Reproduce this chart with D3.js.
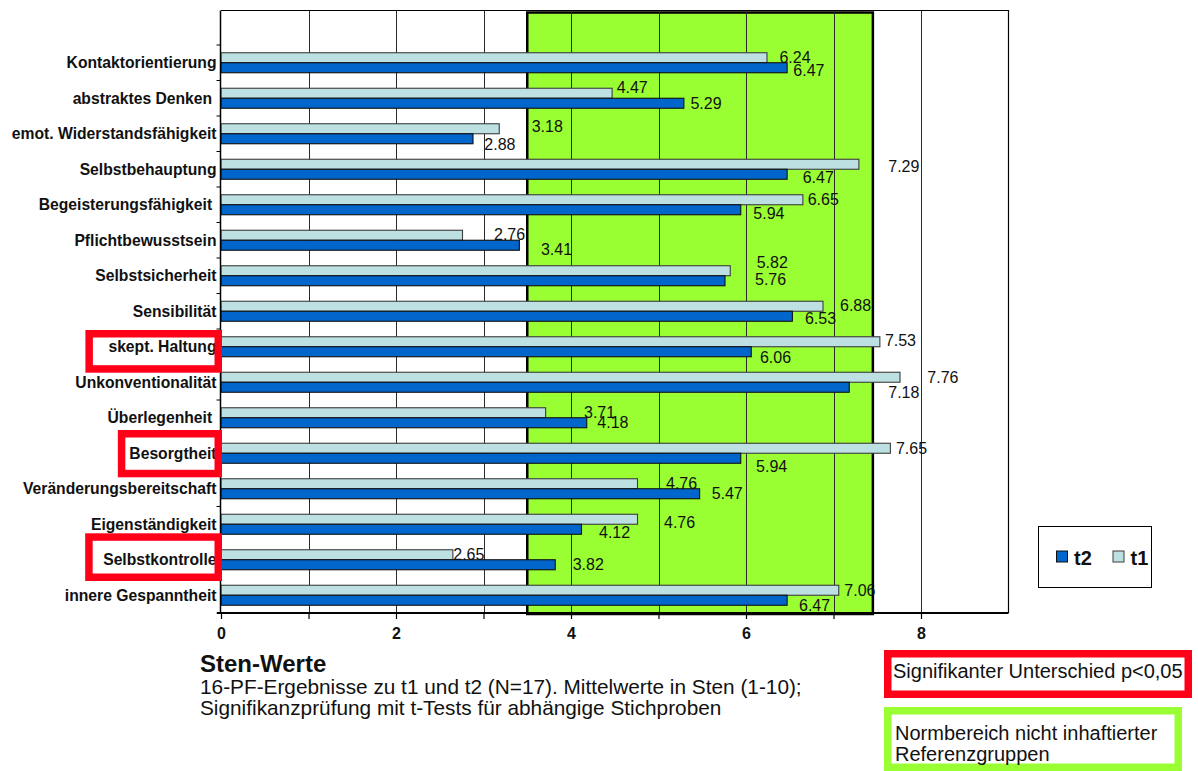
<!DOCTYPE html>
<html>
<head>
<meta charset="utf-8">
<script src="https://cdn.jsdelivr.net/npm/d3@7/dist/d3.min.js"></script>
<style>
  html, body { margin: 0; padding: 0; background: #fff; }
  svg { display: block; font-family: "Liberation Sans", Arial, Helvetica, sans-serif; }
</style>
</head>
<body>
<svg id="chart" width="1198" height="771"></svg>
<script>
// 16PF scales, mean Sten values at t1 and t2
const categories = [
  "Kontaktorientierung", "abstraktes Denken ", "emot. Widerstandsfähigkeit",
  "Selbstbehauptung", "Begeisterungsfähigkeit ", "Pflichtbewusstsein",
  "Selbstsicherheit", "Sensibilität", "skept. Haltung", "Unkonventionalität",
  "Überlegenheit ", "Besorgtheit", "Veränderungsbereitschaft", "Eigenständigkeit",
  "Selbstkontrolle", "innere Gespanntheit"
];
const t1Values = [6.24, 4.47, 3.18, 7.29, 6.65, 2.76, 5.82, 6.88, 7.53, 7.76, 3.71, 7.65, 4.76, 4.76, 2.65, 7.06];
const t2Values = [6.47, 5.29, 2.88, 6.47, 5.94, 3.41, 5.76, 6.53, 6.06, 7.18, 4.18, 5.94, 5.47, 4.12, 3.82, 6.47];
const seriesNames = ["t1", "t2"];
const legendOrder = ["t2", "t1"];
const xTickLabels = [0, 2, 4, 6, 8];
const normRange = [3.5, 7.45];   // Normbereich (Sten)
const significant = ["skept. Haltung", "Besorgtheit", "Selbstkontrolle"];

// value label nudges [dx from bar end, dy from bar centre], px
const t1LabelShift = [[12.4,5],[4.5,-0.4],[32.4,3.3],[29.4,7.7],[4.8,5.5],[31.5,4.3],[26.4,-3.2],[17,4.7],
                      [5,4],[27.3,5.7],[38.4,5.7],[5.6,6],[28.5,5],[26.5,8.4],[0.4,5],[5.6,5.7]];
const t2LabelShift = [[6.2,8.4],[6.6,5.6],[11.3,11.7],[15.6,9],[12.6,9],[21.6,10],[30,4],[12.6,8],
                      [8.7,11.3],[39,11],[10.6,5.3],[15.3,13.4],[12,5],[17.5,8.4],[17.4,5],[11.9,10.7]];
// highlight boxes round significant labels: [left padding, vertical offset, height]
const sigBoxLayout = [[23, 4.6, 42.7], [11.5, 0.4, 47.3], [18, -2.6, 47.7]];

const colors = { t1: "#bde0e3", t2: "#0066cc" };
const strokes = { t1: "#3c3c3c", t2: "#101010" };
const green = "#99ff33";
const red = "#ff0019";

const svg = d3.select("#chart");
const plot = { left: 221, right: 1008.5, top: 10.5, bottom: 613 };

const x = d3.scaleLinear().domain([0, 9]).range([plot.left, plot.right]);
const y = d3.scaleBand().domain(categories).range([45, plot.bottom]).padding(0);
const ySeries = d3.scaleBand().domain(seriesNames).range([0, y.bandwidth()])
  .paddingInner(0).paddingOuter(0.775);

const rows = categories.map((c, i) => ({ cat: c, t1: t1Values[i], t2: t2Values[i], i }));

// plot background
svg.append("rect").attr("x", plot.left).attr("y", plot.top)
  .attr("width", plot.right - plot.left).attr("height", plot.bottom - plot.top)
  .attr("fill", "#fff");

// norm range band
svg.append("rect")
  .attr("x", x(normRange[0])).attr("y", plot.top + 2)
  .attr("width", x(normRange[1]) - x(normRange[0]))
  .attr("height", plot.bottom - plot.top - 1)
  .attr("fill", green).attr("stroke", "#000").attr("stroke-width", 2.5);

// vertical gridlines
svg.append("g").selectAll("line").data(d3.range(1, 9)).join("line")
  .attr("x1", d => Math.round(x(d)) + 0.5).attr("x2", d => Math.round(x(d)) + 0.5)
  .attr("y1", plot.top).attr("y2", plot.bottom)
  .attr("stroke", "#2a2a2a").attr("stroke-width", 1);

// frame: top and right edges
svg.append("path")
  .attr("d", `M${plot.left},${plot.top}H${plot.right}V${plot.bottom}`)
  .attr("fill", "none").attr("stroke", "#000").attr("stroke-width", 1.2);

// bars
const groups = svg.append("g").selectAll("g").data(rows).join("g")
  .attr("transform", d => `translate(0,${y(d.cat)})`);
seriesNames.forEach(s => {
  groups.append("rect")
    .attr("x", x(0))
    .attr("y", ySeries(s))
    .attr("width", d => x(d[s]) - x(0))
    .attr("height", ySeries.bandwidth())
    .attr("fill", colors[s]).attr("stroke", strokes[s]).attr("stroke-width", 1.1);
});

// value labels
const shifts = { t1: t1LabelShift, t2: t2LabelShift };
seriesNames.forEach(s => {
  groups.append("text")
    .attr("x", d => x(d[s]) + shifts[s][d.i][0])
    .attr("y", d => ySeries(s) + ySeries.bandwidth() / 2 + shifts[s][d.i][1])
    .attr("font-size", 16).attr("fill", "#111")
    .text(d => d[s].toFixed(2));
});

// x axis
const xAxis = d3.axisBottom(x).tickValues(d3.range(0, 9)).tickSize(6).tickPadding(9)
  .tickFormat(d => xTickLabels.includes(d) ? d : "");
const gx = svg.append("g").attr("transform", `translate(0,${plot.bottom})`).call(xAxis);
gx.select(".domain").attr("stroke", "#000").attr("stroke-width", 2).attr("d", `M${plot.left - 4},0H${plot.right}`);
gx.selectAll(".tick line").attr("stroke", "#000").attr("stroke-width", 1.2);
gx.selectAll(".tick text").attr("font-size", 16).attr("font-weight", "bold")
  .attr("font-family", "'Liberation Sans', Arial, sans-serif").attr("fill", "#111");

// y axis with category labels and boundary ticks
const yAxis = d3.axisLeft(y).tickSize(0).tickPadding(4);
const gy = svg.append("g").attr("transform", `translate(${plot.left - 0.5},0)`).call(yAxis);
gy.select(".domain").attr("stroke", "#000").attr("stroke-width", 1.5).attr("d", `M0,${plot.top}V${plot.bottom}`);
gy.selectAll(".tick text").attr("font-size", 15.7).attr("font-weight", "bold")
  .attr("font-family", "'Liberation Sans', Arial, sans-serif").attr("fill", "#111")
  .attr("dy", "0.36em").style("white-space", "pre");
const bounds = categories.map(c => y(c)).concat([y.range()[1]]);
gy.append("g").selectAll("line").data(bounds).join("line")
  .attr("x1", -4).attr("x2", 0).attr("y1", d => d).attr("y2", d => d)
  .attr("stroke", "#000").attr("stroke-width", 1);

// highlight boxes for significant differences
gy.selectAll(".tick").each(function (c) {
  const k = significant.indexOf(c);
  if (k < 0) return;
  const bb = d3.select(this).select("text").node().getBBox();
  const [pad, dy, h] = sigBoxLayout[k];
  const sw = 7.5;
  const outerLeft = plot.left - 0.5 + bb.x - pad;
  const outerRight = plot.left + 1;
  const cy = y(c) + y.bandwidth() / 2 + dy;
  svg.append("rect")
    .attr("x", outerLeft + sw / 2).attr("y", cy - h / 2 + sw / 2)
    .attr("width", outerRight - outerLeft - sw).attr("height", h - sw)
    .attr("fill", "none").attr("stroke", red).attr("stroke-width", sw);
});

// axis title and caption
svg.append("text").attr("x", 200).attr("y", 672)
  .attr("font-size", 24).attr("font-weight", "bold").attr("fill", "#111")
  .text("Sten-Werte");
const caption = svg.append("text").attr("x", 200).attr("y", 694).attr("font-size", 20.8).attr("fill", "#111");
caption.append("tspan").attr("x", 200).text("16-PF-Ergebnisse zu t1 und t2 (N=17). Mittelwerte in Sten (1-10);");
caption.append("tspan").attr("x", 200).attr("dy", 21).text("Signifikanzprüfung mit t-Tests für abhängige Stichproben");

// legend
const lg = svg.append("g").attr("transform", "translate(1038,526)");
lg.append("rect").attr("x", 0.5).attr("y", 0.5).attr("width", 113).attr("height", 61)
  .attr("fill", "#fff").attr("stroke", "#000").attr("stroke-width", 1);
legendOrder.forEach((s, i) => {
  const gx0 = 18 + i * 56.5;
  lg.append("rect").attr("x", gx0 + 0.5).attr("y", 25).attr("width", 11).attr("height", 11)
    .attr("fill", colors[s]).attr("stroke", strokes[s]).attr("stroke-width", 1);
  lg.append("text").attr("x", gx0 + 18).attr("y", 39).attr("font-size", 20)
    .attr("font-weight", "bold").attr("fill", "#111").text(s);
});

// key boxes
const sw2 = 7.5;
svg.append("rect").attr("x", 884 + sw2 / 2).attr("y", 650 + sw2 / 2)
  .attr("width", 308 - sw2).attr("height", 48 - sw2)
  .attr("fill", "#fff").attr("stroke", red).attr("stroke-width", sw2);
svg.append("text").attr("x", 893).attr("y", 678).attr("font-size", 20).attr("fill", "#111")
  .text("Signifikanter Unterschied p<0,05");
svg.append("rect").attr("x", 884 + sw2 / 2).attr("y", 707 + sw2 / 2)
  .attr("width", 298 - sw2).attr("height", 64 - sw2)
  .attr("fill", "#fff").attr("stroke", green).attr("stroke-width", sw2);
const key2 = svg.append("text").attr("x", 895).attr("y", 740).attr("font-size", 20).attr("fill", "#111");
key2.append("tspan").attr("x", 895).text("Normbereich nicht inhaftierter");
key2.append("tspan").attr("x", 895).attr("dy", 20.7).text("Referenzgruppen");
</script>
</body>
</html>
